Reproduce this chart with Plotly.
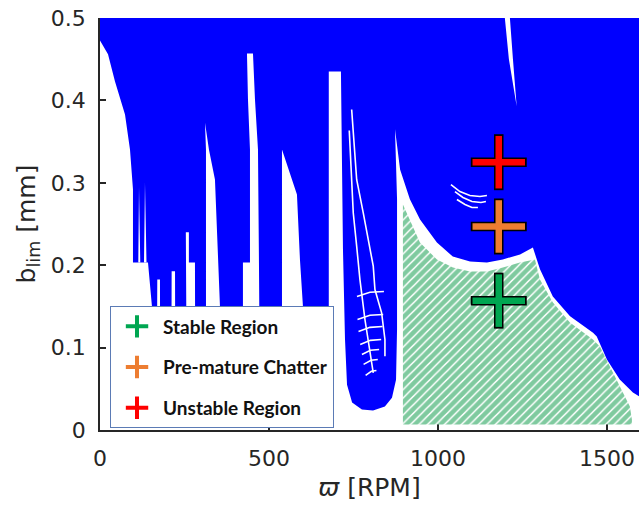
import plotly.graph_objects as go

# ---------------- axis ticks ----------------
x_ticks = [0, 500, 1000, 1500]
y_ticks = [0, 0.1, 0.2, 0.3, 0.4, 0.5]
y_ticktext = ["0", "0.1", "0.2", "0.3", "0.4", "0.5"]

# ---------------- unstable (lobe) region outline: spindle speed [RPM], b_lim [mm] ----------------
lobe_rpm = [0, 1595, 1595, 1577, 1538, 1500, 1470, 1459, 1391, 1340, 1302, 1281, 1243, 1192,
            1145, 1095, 1044, 997, 947, 917, 888, 873, 879, 879, 876, 864, 843, 808, 775,
            746, 731, 725, 719, 716, 713, 677, 677, 160, 153.8, 142, 97.6, 97.6, 88.8, 74,
            44.4, 23.7, 0]
lobe_b = [0.5, 0.5, 0.041, 0.0455, 0.0613, 0.0856, 0.1135, 0.118, 0.138, 0.162, 0.195, 0.2215,
          0.213, 0.207, 0.2033, 0.2045, 0.2105, 0.2275, 0.2555, 0.28, 0.316, 0.365, 0.28, 0.122,
          0.061, 0.039, 0.0285, 0.0237, 0.0249, 0.0334, 0.055, 0.11, 0.219, 0.34, 0.435, 0.435,
          0.031, 0.031, 0.150, 0.2033, 0.2033, 0.292, 0.340, 0.383, 0.423, 0.456, 0.4727]

# ---------------- stable gaps between lobes ----------------
gap1_rpm = [115.4, 119.2, 113.3]
gap1_b = [0.295, 0.2033, 0.2033]
gap2_rpm = [133.1, 137.6, 130.2]
gap2_b = [0.300, 0.2033, 0.2033]
gap3_rpm = [169.5, 177.5, 178, 168]
gap3_b = [0.1826, 0.1826, 0.031, 0.031]
gap4_rpm = [212, 222, 223, 211]
gap4_b = [0.1927, 0.1927, 0.031, 0.031]
gap5_rpm = [254, 263, 263, 281, 282, 257]
gap5_b = [0.24, 0.24, 0.2033, 0.2033, 0.031, 0.031]
gap6_rpm = [310.7, 322.5, 340.2, 349, 355, 355, 313.6, 313.6]
gap6_b = [0.373, 0.340, 0.304, 0.219, 0.150, 0.031, 0.031, 0.340]
gap7_rpm = [434.9, 452.7, 458.6, 467.5, 470.4, 473.4, 423, 423, 443.8, 443.8, 437.9]
gap7_b = [0.4569, 0.4569, 0.4011, 0.3404, 0.2033, 0.031, 0.031, 0.2033, 0.2033, 0.3404, 0.4011]
gap8_rpm = [538.5, 582.8, 591.7, 600.6, 606.5, 538.5]
gap8_b = [0.3404, 0.2858, 0.2069, 0.1499, 0.031, 0.031]
gap9_rpm = [1198, 1213, 1222, 1233, 1210]
gap9_b = [0.5, 0.5, 0.45, 0.393, 0.45]
gaps = [(gap1_rpm, gap1_b), (gap2_rpm, gap2_b), (gap3_rpm, gap3_b), (gap4_rpm, gap4_b),
        (gap5_rpm, gap5_b), (gap6_rpm, gap6_b), (gap7_rpm, gap7_b), (gap8_rpm, gap8_b),
        (gap9_rpm, gap9_b)]

# ---------------- thin stable contours inside the lobes ----------------
arcA_rpm = [737.6, 744.7, 749.4, 759.5, 769.2, 784, 798.8, 808.6]
arcA_b = [0.3634, 0.304, 0.2636, 0.2231, 0.1826, 0.1341, 0.0937, 0.0694]
arcB_rpm = [744.7, 759.5, 779, 798.8, 808.6, 813.6, 833.4, 843.2, 843.2]
arcB_b = [0.389, 0.304, 0.2636, 0.2231, 0.1988, 0.1705, 0.1422, 0.1098, 0.0896]
rung1_rpm = [760.4, 798.8, 840.2]
rung1_b = [0.1621, 0.1671, 0.1681]
rung2_rpm = [762, 798.8, 838]
rung2_b = [0.1342, 0.1392, 0.1402]
rung3_rpm = [765, 798.8, 836]
rung3_b = [0.1196, 0.1246, 0.1256]
rung4_rpm = [770, 800, 832]
rung4_b = [0.1038, 0.1088, 0.1098]
rung5_rpm = [775, 800, 826]
rung5_b = [0.0917, 0.0967, 0.0977]
rung6_rpm = [780, 802, 822]
rung6_b = [0.0796, 0.0846, 0.0856]
rung7_rpm = [786, 803, 818]
rung7_b = [0.0662, 0.0712, 0.0722]
arc1_rpm = [1038.5, 1065, 1094.7, 1124.3, 1145]
arc1_b = [0.2979, 0.2894, 0.2846, 0.2834, 0.2846]
arc2_rpm = [1050.3, 1074, 1100.6, 1127.2, 1142]
arc2_b = [0.2894, 0.2822, 0.2773, 0.2761, 0.2773]
arc3_rpm = [1056.2, 1080, 1100.6, 1118.3]
arc3_b = [0.2797, 0.2737, 0.2700, 0.2700]
contours = [(arcA_rpm, arcA_b), (arcB_rpm, arcB_b), (rung1_rpm, rung1_b), (rung2_rpm, rung2_b),
            (rung3_rpm, rung3_b), (rung4_rpm, rung4_b), (rung5_rpm, rung5_b),
            (rung6_rpm, rung6_b), (rung7_rpm, rung7_b), (arc1_rpm, arc1_b),
            (arc2_rpm, arc2_b), (arc3_rpm, arc3_b)]

# ---------------- hatched stable region ----------------
stable_rpm = [896.4, 946.7, 997, 1044.4, 1094.7, 1145, 1192.3, 1242.6, 1287, 1301.8, 1340.2,
              1390.5, 1458.6, 1479.3, 1508.9, 1538.5, 1568, 1574, 1574, 896.4]
stable_b = [0.2737, 0.2275, 0.2069, 0.1972, 0.1924, 0.1924, 0.1972, 0.2033, 0.2069, 0.1827,
            0.1547, 0.1305, 0.1098, 0.1013, 0.0771, 0.0528, 0.0285, 0.0127, 0.0067, 0.0067]

# ---------------- cutting tests ----------------
test_names = ["Stable Region", "Pre-mature Chatter", "Unstable Region"]
test_rpm = [1180, 1180, 1180]
test_b = [0.157, 0.247, 0.325]
test_colors = ["#00a651", "#ed7d31", "#ff0000"]


def join(segments):
    xs, ys = [], []
    for sx, sy in segments:
        xs += list(sx) + [None]
        ys += list(sy) + [None]
    return xs, ys


BLUE = "#0000ff"
AX = "#262626"

fig = go.Figure()
fig.add_trace(go.Scatter(x=lobe_rpm, y=lobe_b, fill="toself", fillcolor=BLUE, mode="lines",
                         line=dict(width=0, color=BLUE), hoverinfo="skip", showlegend=False))
gx, gy = join(gaps)
fig.add_trace(go.Scatter(x=gx, y=gy, fill="toself", fillcolor="white", mode="lines",
                         line=dict(width=0, color="white"), hoverinfo="skip", showlegend=False))
cx, cy = join(contours)
fig.add_trace(go.Scatter(x=cx, y=cy, mode="lines", line=dict(width=1.6, color="white"),
                         hoverinfo="skip", showlegend=False))
fig.add_trace(go.Scatter(x=stable_rpm, y=stable_b, fill="toself", mode="lines",
                         line=dict(width=0, color="white"), fillcolor="white",
                         fillpattern=dict(shape="/", fgcolor="#00963f", bgcolor="white",
                                          size=6, solidity=0.75),
                         hoverinfo="skip", showlegend=False))

# outlined crosses
for sym in ["line-ew", "line-ns"]:
    fig.add_trace(go.Scatter(x=test_rpm, y=test_b, mode="markers", showlegend=False,
                             hoverinfo="skip",
                             marker=dict(symbol=sym, size=40, color="black",
                                         line=dict(width=9.5, color="black"))))
for sym in ["line-ew", "line-ns"]:
    fig.add_trace(go.Scatter(x=test_rpm, y=test_b, mode="markers", showlegend=False,
                             hoverinfo="skip",
                             marker=dict(symbol=sym, size=37.5, color=test_colors,
                                         line=dict(width=6.5, color=test_colors))))

# legend entries
for i, name in enumerate(test_names):
    fig.add_trace(go.Scatter(x=[None], y=[None], mode="markers", name=name,
                             legendgroup=name,
                             marker=dict(symbol="cross-thin", size=16, color=test_colors[i],
                                         line=dict(width=4, color=test_colors[i]))))

fig.update_layout(
    width=639, height=507,
    margin=dict(l=100, r=0, t=18, b=77),
    paper_bgcolor="white", plot_bgcolor="white",
    font=dict(family="DejaVu Sans", color=AX),
    showlegend=True,
    legend=dict(x=0.0186, y=0.2998, xanchor="left", yanchor="top",
                bgcolor="white", bordercolor="#5b7bb5", borderwidth=1,
                font=dict(family="Lato", size=19, color="#111111", weight="bold"),
                itemwidth=42, tracegroupgap=13, traceorder="grouped"),
    xaxis=dict(range=[0, 1595], tickvals=x_ticks, ticks="inside", ticklen=6, tickwidth=1.5,
               tickcolor=AX, showline=True, linecolor=AX, linewidth=1.8, showgrid=False,
               zeroline=False, layer="below traces", ticklabelstandoff=8,
               tickfont=dict(family="DejaVu Sans", size=22, color=AX),
               title=dict(text="<i>ϖ</i> [RPM]", font=dict(family="DejaVu Sans", size=25, color=AX),
                          standoff=8)),
    yaxis=dict(range=[0, 0.5], tickvals=y_ticks, ticktext=y_ticktext, ticks="inside", ticklen=6,
               tickwidth=1.5, tickcolor=AX, showline=True, linecolor=AX, linewidth=1.8,
               showgrid=False, zeroline=False, layer="below traces", ticklabelstandoff=8,
               tickfont=dict(family="DejaVu Sans", size=22, color=AX),
               title=dict(text="b<sub>lim</sub> [mm]",
                          font=dict(family="DejaVu Sans", size=25, color=AX), standoff=8)),
)

fig.write_html("out.html")
